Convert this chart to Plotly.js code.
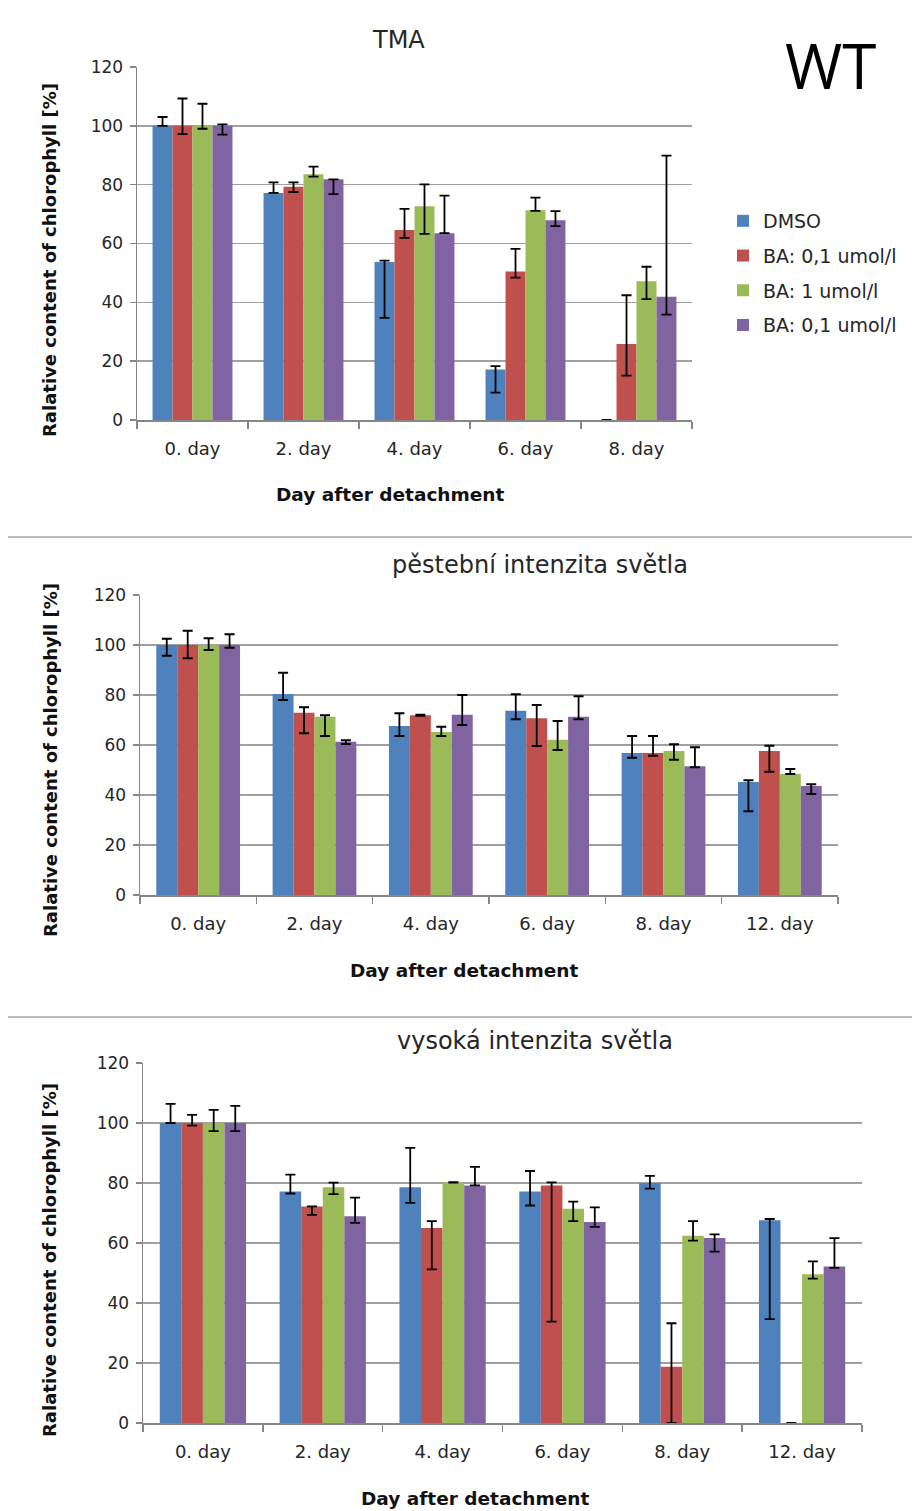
<!DOCTYPE html>
<html>
<head>
<meta charset="utf-8">
<script src="https://cdn.plot.ly/plotly-3.0.1.min.js"></script>
<style>html,body{margin:0;padding:0;background:#fff}#chart{width:912px;height:1511px}</style>
</head>
<body>
<div id="chart"></div>
<script>
// ---- data ----
const seriesNames = ['DMSO', 'BA: 0,1 umol/l', 'BA: 1 umol/l', 'BA: 0,1 umol/l'];
const seriesColors = ['#4F81BD', '#C0504D', '#9BBB59', '#8064A2'];

const daysTMA = ['0. day', '2. day', '4. day', '6. day', '8. day'];
const daysLight = ['0. day', '2. day', '4. day', '6. day', '8. day', '12. day'];

// Panel 1: TMA
const tmaDMSO = [100, 77.2, 53.7, 17.2, 0];
const tmaBA01 = [100, 79.3, 64.6, 50.5, 25.8];
const tmaBA1 = [100, 83.5, 72.7, 71.3, 47.2];
const tmaBA01b = [100, 81.8, 63.5, 67.9, 41.9];
const tmaDMSOplus = [3, 3.6, 0.5, 1.1, 0];
const tmaDMSOminus = [0, 0, 19, 7.9, 0];
const tmaBA01plus = [9.3, 1.5, 7.2, 7.7, 16.6];
const tmaBA01minus = [2.8, 1.8, 2.7, 2.1, 10.7];
const tmaBA1plus = [7.5, 2.6, 7.4, 4.3, 4.9];
const tmaBA1minus = [1, 0.8, 9.4, 0.2, 6.1];
const tmaBA01bplus = [0.5, 0, 12.8, 3.1, 48];
const tmaBA01bminus = [3, 5, 0, 2, 6.1];

// Panel 2: pěstební intenzita světla
const growDMSO = [100, 80.4, 67.6, 73.7, 56.8, 45.2];
const growBA01 = [100, 72.9, 71.9, 70.7, 56.8, 57.6];
const growBA1 = [100, 71.3, 65.2, 62.1, 57.6, 48.4];
const growBA01b = [100, 61.3, 72.1, 71.3, 51.5, 43.6];
const growDMSOplus = [2.5, 8.5, 5.1, 6.6, 6.8, 0.7];
const growDMSOminus = [4.3, 2.4, 4, 3.4, 1.9, 11.7];
const growBA01plus = [5.7, 2.2, 0.2, 5.3, 6.8, 2.1];
const growBA01minus = [5.3, 8.2, 0.2, 11.1, 1.1, 8.3];
const growBA1plus = [2.7, 0.6, 2.1, 7.5, 2.7, 2];
const growBA1minus = [2, 7.7, 1.6, 4.1, 3.5, 0];
const growBA01bplus = [4.3, 0.6, 7.9, 8.2, 7.6, 0.7];
const growBA01bminus = [1.1, 0.9, 4.1, 1, 0.4, 3.2];

// Panel 3: vysoká intenzita světla
const highDMSO = [100, 77.2, 78.6, 77.2, 80, 67.6];
const highBA01 = [100, 72.2, 65, 79.2, 18.75, 0];
const highBA1 = [100, 78.6, 80.2, 71.4, 62.4, 49.6];
const highBA01b = [100, 68.9, 79.2, 67, 61.7, 52.2];
const highDMSOplus = [6.4, 5.6, 13.1, 6.8, 2.4, 0.4];
const highDMSOminus = [0, 0.7, 5.2, 4.7, 1.9, 33];
const highBA01plus = [2.7, 0, 2.3, 1, 14.5, 0];
const highBA01minus = [0.9, 2.8, 13.8, 45.4, 18.75, 0];
const highBA1plus = [4.4, 1.5, 0.1, 2.4, 4.9, 4.3];
const highBA1minus = [2.7, 2.3, 0.1, 4.1, 1.6, 1.5];
const highBA01bplus = [5.7, 6.2, 6.2, 4.9, 1.2, 9.4];
const highBA01bminus = [2.7, 2.2, 0, 1.6, 4.6, 0.5];

const yTicks = [0, 20, 40, 60, 80, 100, 120];
const panelTitles = ['TMA', 'pěstební intenzita světla', 'vysoká intenzita světla'];
const xTitle = 'Day after detachment';
const yTitle = 'Ralative content of chlorophyll [%]';

// ---- build ----
const FONT = 'DejaVu Sans, Verdana, sans-serif';
const panels = [
  {x: daysTMA, vals: [tmaDMSO, tmaBA01, tmaBA1, tmaBA01b],
   plus: [tmaDMSOplus, tmaBA01plus, tmaBA1plus, tmaBA01bplus],
   minus: [tmaDMSOminus, tmaBA01minus, tmaBA1minus, tmaBA01bminus]},
  {x: daysLight, vals: [growDMSO, growBA01, growBA1, growBA01b],
   plus: [growDMSOplus, growBA01plus, growBA1plus, growBA01bplus],
   minus: [growDMSOminus, growBA01minus, growBA1minus, growBA01bminus]},
  {x: daysLight, vals: [highDMSO, highBA01, highBA1, highBA01b],
   plus: [highDMSOplus, highBA01plus, highBA1plus, highBA01bplus],
   minus: [highDMSOminus, highBA01minus, highBA1minus, highBA01bminus]}
];

const traces = [];
panels.forEach((p, pi) => {
  const sfx = pi === 0 ? '' : String(pi + 1);
  for (let s = 0; s < 4; s++) {
    traces.push({
      type: 'bar', x: p.x, y: p.vals[s], name: seriesNames[s],
      xaxis: 'x' + sfx, yaxis: 'y' + sfx,
      marker: {color: seriesColors[s], line: {width: 0}},
      showlegend: pi === 0, legendgroup: 'g' + s,
      error_y: {type: 'data', symmetric: false, array: p.plus[s], arrayminus: p.minus[s],
        color: '#000', thickness: 1.8, width: 5}
    });
  }
});

const H = 1511, W = 912;
const fy = px => 1 - px / H;
const fx = px => px / W;
const boxes = [
  {l: 137, r: 692, t: 67, b: 420},
  {l: 140, r: 838, t: 595, b: 895},
  {l: 143, r: 862, t: 1063, b: 1423}
];
const titlePos = [{x: 398, y: 40}, {x: 540, y: 565}, {x: 535, y: 1041}];
const xTitlePos = [{x: 390, y: 495}, {x: 465, y: 970}, {x: 476, y: 1498}];
const yTitlePos = [{x: 50, y: 260}, {x: 50, y: 760}, {x: 49, y: 1260}];

const layout = {
  width: W, height: H,
  margin: {l: 0, r: 0, t: 0, b: 0},
  paper_bgcolor: '#fff', plot_bgcolor: '#fff',
  font: {family: FONT, color: '#262626', size: 16},
  barmode: 'group', bargap: 0.28, bargroupgap: 0,
  showlegend: true,
  legend: {x: fx(723), y: fy(202), xanchor: 'left', yanchor: 'top',
    font: {size: 19, family: FONT, color: '#262626'},
    traceorder: 'grouped', tracegroupgap: 7, bgcolor: 'rgba(0,0,0,0)'},
  annotations: [],
  shapes: [
    {type: 'line', xref: 'paper', yref: 'paper', x0: fx(8), x1: 1, y0: fy(537), y1: fy(537),
      line: {color: '#a6a6a6', width: 1.5}},
    {type: 'line', xref: 'paper', yref: 'paper', x0: fx(8), x1: 1, y0: fy(1017), y1: fy(1017),
      line: {color: '#a6a6a6', width: 1.5}}
  ]
};

boxes.forEach((b, i) => {
  const sfx = i === 0 ? '' : String(i + 1);
  layout['xaxis' + sfx] = {
    domain: [fx(b.l), fx(b.r)], anchor: 'y' + sfx, type: 'category',
    showline: true, linecolor: '#868686', linewidth: 1.5,
    ticks: 'outside', tickson: 'boundaries', ticklen: 7, tickcolor: '#868686', tickwidth: 1.5,
    tickfont: {size: 18, family: FONT, color: '#262626'},
    ticklabelstandoff: 12,
    showgrid: false, zeroline: false
  };
  layout['yaxis' + sfx] = {
    domain: [fy(b.b), fy(b.t)], anchor: 'x' + sfx,
    range: [0, 120], tickvals: yTicks, ticktext: yTicks.map(String),
    showline: true, linecolor: '#868686', linewidth: 1.5,
    ticks: 'outside', ticklen: 6, tickcolor: '#868686', tickwidth: 1.5,
    ticklabelstandoff: 3,
    showgrid: true, gridcolor: '#a0a0a0', gridwidth: 1.5, zeroline: false,
    tickfont: {size: 17, family: FONT, color: '#262626'}
  };
  layout.annotations.push({
    text: panelTitles[i], xref: 'paper', yref: 'paper', x: fx(titlePos[i].x), y: fy(titlePos[i].y),
    xanchor: 'center', yanchor: 'middle', showarrow: false,
    font: {size: 24, family: FONT, color: '#262626'}
  });
  layout.annotations.push({
    text: '<b>' + xTitle + '</b>', xref: 'paper', yref: 'paper',
    x: fx(xTitlePos[i].x), y: fy(xTitlePos[i].y),
    xanchor: 'center', yanchor: 'middle', showarrow: false,
    font: {size: 18.5, family: FONT, color: '#111'}
  });
  layout.annotations.push({
    text: '<b>' + yTitle + '</b>', xref: 'paper', yref: 'paper',
    x: fx(yTitlePos[i].x), y: fy(yTitlePos[i].y), textangle: -90,
    xanchor: 'center', yanchor: 'middle', showarrow: false,
    font: {size: 18, family: FONT, color: '#111'}
  });
});
layout.annotations.push({
  text: 'WT', xref: 'paper', yref: 'paper', x: fx(830), y: fy(65),
  xanchor: 'center', yanchor: 'middle', showarrow: false,
  font: {size: 62, family: 'Open Sans, sans-serif', color: '#000'}
});

Plotly.newPlot('chart', traces, layout, {staticPlot: true, displayModeBar: false});
</script>
</body>
</html>
